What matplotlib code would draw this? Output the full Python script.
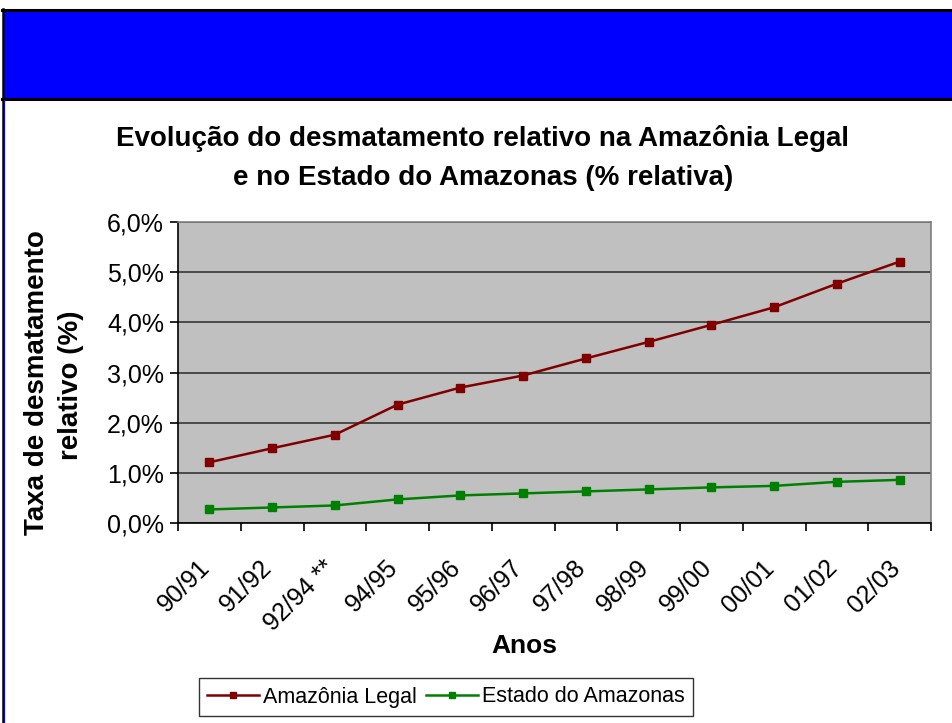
import matplotlib
matplotlib.use("Agg")
import matplotlib.pyplot as plt
from matplotlib.patches import Rectangle
from matplotlib.lines import Line2D
from matplotlib.ticker import FixedLocator, FuncFormatter
from matplotlib.transforms import ScaledTranslation

categories = ["90/91", "91/92", "92/94 **", "94/95", "95/96", "96/97",
              "97/98", "98/99", "99/00", "00/01", "01/02", "02/03"]
amazonia_legal = [1.21, 1.49, 1.76, 2.36, 2.70, 2.94, 3.28, 3.61, 3.95, 4.30, 4.77, 5.21]
estado_amazonas = [0.27, 0.31, 0.35, 0.47, 0.55, 0.59, 0.63, 0.67, 0.71, 0.74, 0.82, 0.86]

plt.rcParams['font.family'] = ['Liberation Sans', 'DejaVu Sans']

W, H = 952, 723
fig = plt.figure(figsize=(W / 100, H / 100), dpi=100)
fig.patch.set_facecolor("white")

def fx(px):
    return px / W

def fy(py):
    return 1 - py / H

# blue header band with black borders
fig.add_artist(Rectangle((fx(4), fy(99)), 1 - fx(4), fy(10) - fy(99),
                         transform=fig.transFigure, facecolor="#0000FF",
                         edgecolor="none", zorder=0))
fig.add_artist(Line2D([fx(2), 1], [fy(10), fy(10)], transform=fig.transFigure,
                      color="black", lw=2.2))
fig.add_artist(Line2D([fx(2), 1], [fy(99), fy(99)], transform=fig.transFigure,
                      color="black", lw=2.2))
fig.add_artist(Line2D([fx(2.5), fx(2.5)], [fy(9), 0], transform=fig.transFigure,
                      color="black", lw=1.8))
fig.add_artist(Line2D([fx(4.3), fx(4.3)], [fy(100), 0], transform=fig.transFigure,
                      color="#0000FF", lw=0.9))

left, right, top, bottom = 178, 931, 222, 523
ax = fig.add_axes([fx(left), fy(bottom), fx(right) - fx(left), fy(top) - fy(bottom)])
ax.set_facecolor("#C0C0C0")

x = list(range(len(categories)))
ax.plot(x, amazonia_legal, color="#800000", lw=1.8, marker="s", ms=6,
        label="Amazônia Legal")
ax.plot(x, estado_amazonas, color="#008000", lw=1.8, marker="s", ms=6,
        label="Estado do Amazonas")

ax.set_xlim(-0.5, len(categories) - 0.5)
ax.set_ylim(0, 6)
ax.set_yticks([0, 1, 2, 3, 4, 5, 6])
ax.yaxis.set_major_formatter(FuncFormatter(lambda v, p: f"{v:.1f}%".replace(".", ",")))
ax.yaxis.grid(True, color="#404040", lw=1.3)
ax.set_axisbelow(True)

ax.set_xticks(x)
ax.set_xticklabels(categories, rotation=45, ha="right", rotation_mode="anchor",
                   fontsize=18)
ax.tick_params(axis="x", which="major", length=0, pad=12)
offset = ScaledTranslation(-12 / 100, -16 / 100, fig.dpi_scale_trans)
for lab in ax.get_xticklabels():
    lab.set_transform(lab.get_transform() + offset)
ax.xaxis.set_minor_locator(FixedLocator([i - 0.5 for i in range(len(categories) + 1)]))
ax.tick_params(axis="x", which="minor", length=6, width=1.2, color="black")
ax.tick_params(axis="y", length=6, width=1.2, labelsize=18, pad=4)

for s in ["top", "right"]:
    ax.spines[s].set_color("#808080")
    ax.spines[s].set_linewidth(1.2)
for s in ["left", "bottom"]:
    ax.spines[s].set_color("black")
    ax.spines[s].set_linewidth(1.2)

fig.text(fx(483), fy(138), "Evolução do desmatamento relativo na Amazônia Legal",
         ha="center", va="center", fontsize=20, fontweight="bold")
fig.text(fx(483), fy(178), "e no Estado do Amazonas (% relativa)",
         ha="center", va="center", fontsize=20, fontweight="bold")

fig.text(fx(37), fy(383), "Taxa de desmatamento", rotation=90,
         ha="center", va="center", fontsize=20, fontweight="bold")
fig.text(fx(71), fy(385), "relativo (%)", rotation=90,
         ha="center", va="center", fontsize=20, fontweight="bold")

fig.text(fx(524), fy(646), "Anos", ha="center", va="center",
         fontsize=19, fontweight="bold")

leg = fig.legend(loc="center", bbox_to_anchor=(fx(446), fy(697)), ncol=2,
                 fontsize=15.5, frameon=True, fancybox=False, edgecolor="black",
                 handlelength=2.4, handletextpad=0.2, columnspacing=0.4,
                 borderpad=0.4, markerscale=0.7)
leg.get_frame().set_linewidth(1.0)

fig.savefig("out.png", dpi=100, facecolor="white")
